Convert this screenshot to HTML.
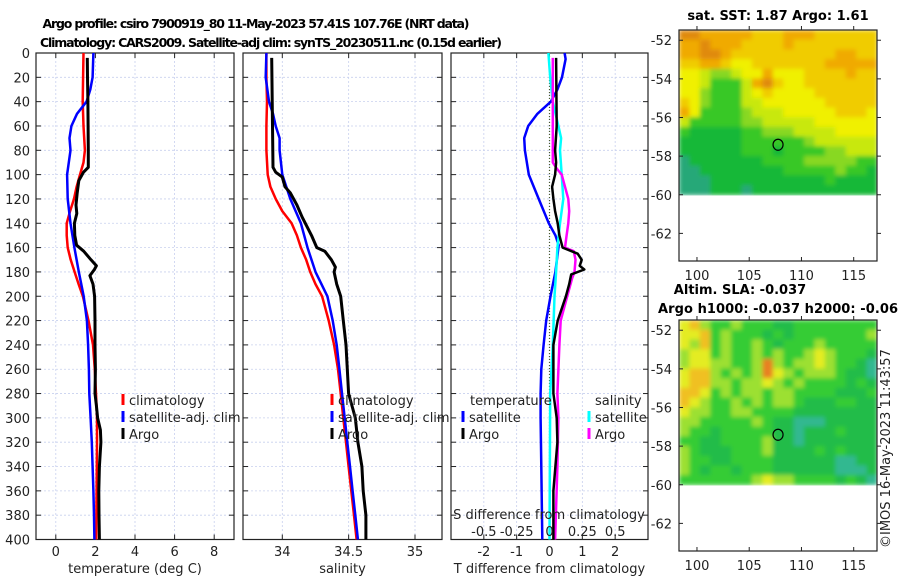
<!DOCTYPE html>
<html><head><meta charset="utf-8"><style>
html,body{margin:0;padding:0;background:#fff;}
svg{display:block;font-family:"DejaVu Sans","Liberation Sans",sans-serif;}
</style></head><body>
<svg id="s" width="900" height="580" viewBox="0 0 900 580" xmlns="http://www.w3.org/2000/svg">
<defs>
<filter id="blur" x="0" y="0" width="1" height="1"><feGaussianBlur stdDeviation="2.2" edgeMode="duplicate"/></filter>
<clipPath id="clipTop"><rect x="679" y="30" width="198" height="166.4"/></clipPath>
<clipPath id="clipBot"><rect x="679" y="320" width="198" height="166.4"/></clipPath>
</defs>
<text x="256" y="28" font-size="12.5" font-weight="bold" text-anchor="middle" textLength="427">Argo profile: csiro 7900919_80 11-May-2023 57.41S 107.76E (NRT data)</text>
<text x="271" y="47" font-size="12.5" font-weight="bold" text-anchor="middle" textLength="462">Climatology: CARS2009. Satellite-adj clim: synTS_20230511.nc (0.15d earlier)</text>
<text x="778" y="20" font-size="13" font-weight="bold" text-anchor="middle">sat. SST: 1.87 Argo: 1.61</text>
<text x="740" y="294" font-size="13" font-weight="bold" text-anchor="middle">Altim. SLA: -0.037</text>
<text x="778" y="313" font-size="13" font-weight="bold" text-anchor="middle" textLength="240">Argo h1000: -0.037 h2000: -0.06</text>
<text transform="translate(890,548) rotate(-90)" font-size="13" fill="#222">©IMOS 16-May-2023 11:43:57</text>
</svg>
<script>
// ---------- data ----------
const yTicks=[0,20,40,60,80,100,120,140,160,180,200,220,240,260,280,300,320,340,360,380,400];
const tTicks=[0,2,4,6,8];
const sTicks=[34,34.5,35];
const sTickLabels=["34","34.5","35"];
const dTicks=[-2,-1,0,1,2];
const sdTicks=[-0.5,-0.25,0,0.25,0.5];
const sdTickLabels=["-0.5","-0.25","0","0.25","0.5"];

const climTDepth=[0,20,40,60,80,90,100,110,120,130,140,150,160,170,180,190,200,220,240,260,280,300,320,340,360,380,400];
const climT=[1.4,1.38,1.36,1.4,1.47,1.4,1.22,1.05,0.92,0.72,0.55,0.55,0.6,0.75,0.95,1.15,1.37,1.65,1.88,1.97,2.03,2.08,2.08,2.07,2.06,2.05,2.04];
const satTDepth=[0,20,30,40,50,60,70,80,100,120,140,160,180,200,220,240,260,280,300,320,340,360,380,400];
const satT=[1.9,1.86,1.74,1.55,1.07,0.79,0.69,0.74,0.57,0.6,0.74,0.94,1.16,1.41,1.57,1.63,1.67,1.69,1.76,1.82,1.86,1.9,1.93,1.95];
const argoTDepth=[4,20,40,60,80,94,98,105,115,125,132,140,150,158,163,170,175,178,183,190,200,220,240,260,280,290,300,310,320,340,360,380,400];
const argoT=[1.59,1.6,1.62,1.63,1.64,1.64,1.4,1.16,1.08,1.02,1.06,0.94,0.96,1.05,1.41,1.78,2.05,1.95,1.72,1.88,1.96,1.98,1.98,2.0,1.98,2.05,2.11,2.25,2.28,2.2,2.17,2.18,2.2];

const climSDepth=[0,20,40,60,80,100,110,120,130,140,150,160,170,180,190,200,220,240,260,280,300,320,340,360,380,400];
const climS=[33.88,33.88,33.885,33.88,33.88,33.89,33.91,33.95,34.0,34.07,34.11,34.14,34.18,34.21,34.25,34.3,34.35,34.39,34.42,34.44,34.46,34.48,34.5,34.52,34.54,34.56];
const satSDepth=[0,20,40,50,60,70,80,100,120,140,160,180,200,220,240,260,280,300,320,340,360,380,400];
const satS=[33.88,33.875,33.9,33.93,33.95,33.98,33.98,34.0,34.06,34.14,34.19,34.25,34.34,34.38,34.41,34.43,34.45,34.47,34.49,34.51,34.53,34.55,34.57];
const argoSDepth=[4,94,98,102,110,115,125,135,150,160,163,170,176,180,190,200,220,240,260,280,300,320,340,360,380,400];
const argoS=[33.92,33.93,33.95,34.0,34.02,34.06,34.11,34.15,34.22,34.26,34.32,34.37,34.4,34.39,34.41,34.44,34.46,34.48,34.49,34.5,34.55,34.57,34.6,34.61,34.63,34.63];

const dSatTDepth=[0,5,20,30,40,50,60,70,80,100,120,140,150,158,180,200,220,240,260,280,300,340,400];
const dSatT=[0.46,0.49,0.38,0.24,0.04,-0.37,-0.65,-0.77,-0.75,-0.63,-0.33,-0.02,0.18,0.28,0.18,0.03,-0.1,-0.18,-0.25,-0.27,-0.27,-0.25,-0.22];
const dArgoTDepth=[4,60,80,90,100,110,120,130,140,150,160,165,170,175,178,182,190,200,220,240,280,300,320,360,400];
const dArgoT=[0.2,0.22,0.17,0.2,0.17,0.08,0.12,0.17,0.25,0.3,0.4,0.86,0.98,0.92,1.06,0.66,0.6,0.5,0.25,0.12,0.12,0.22,0.24,0.12,0.12];
const dSatSDepth=[0,20,40,60,70,80,100,120,140,160,180,200,240,280,400];
const dSatS=[-0.008,0.005,0.025,0.068,0.088,0.08,0.093,0.105,0.08,0.06,0.05,0.038,0.025,0.005,0.0];
const dArgoSDepth=[4,80,90,95,100,110,120,130,140,150,160,163,170,180,185,200,220,240,280,300,340,400];
const dArgoS=[0.025,0.025,0.025,0.055,0.093,0.118,0.143,0.15,0.143,0.13,0.118,0.185,0.198,0.19,0.173,0.135,0.085,0.075,0.06,0.068,0.06,0.043];

const sstGrid=["8877777666777666666","7787776666766666666","7788766666666667766","6677655666666677777","5543345575556666766","5542224786556666666","5532224565555666666","6532224455555566666","7522223444555556665","4222223344444555555","2111112233344445555","1111112222223444444","1111112221222233444","0111111122223333322","0011111111222223221","0001111111111121111","0001110111111111111"];
const slaGrid=["4532232221122222222","4452322212122222223","4352322321222322222","3442322323223432221","3443322363233432210","4553232364323332110","4553323343232222121","5542323323322221112","5432232323321112211","4332233222211111111","3322222321100011111","3221222221101112111","2211222231101111111","3211122231111212111","3221122221111110011","3212212221111110001","2222222343322221210"];
const mapLonTicks=[100,105,110,115];
const mapLatTicks=[-52,-54,-56,-58,-60,-62];
const argoLon=107.76, argoLat=-57.41;

// ---------- drawing ----------
const S=document.getElementById('s');const NS='http://www.w3.org/2000/svg';
function mk(tag,attrs,parent){const e=document.createElementNS(NS,tag);for(const k in attrs)e.setAttribute(k,attrs[k]);(parent||S).appendChild(e);return e;}
const Y0=53,Y1=539.5;
const yS=d=>Y0+(d/400)*(Y1-Y0);
function lin(d0,d1,p0,p1){return v=>p0+(v-d0)/(d1-d0)*(p1-p0);}

function panel(name,x0,x1,xs,xt,xtl,showYLabels,xlabel){
  const g=mk('g',{});
  
  
  yTicks.forEach(d=>{const l=mk('line',{x1:x0,x2:x1,y1:yS(d),y2:yS(d),stroke:'#c8d0ee','stroke-width':0.8,'stroke-dasharray':'2,2'},g);
    
    mk('line',{x1:x0,x2:x0+5,y1:yS(d),y2:yS(d),stroke:'#222'},g);mk('line',{x1:x1-5,x2:x1,y1:yS(d),y2:yS(d),stroke:'#222'},g);
    if(showYLabels){const t=mk('text',{x:30,y:yS(d)+5,'font-size':13,'text-anchor':'end',fill:'#222'},g);t.textContent=d;
      }
  });
  xt.forEach((v,i)=>{const x=xs(v);
    const l=mk('line',{x1:x,x2:x,y1:Y0,y2:Y1,stroke:'#c8d0ee','stroke-width':0.8,'stroke-dasharray':'2,2'},g);
    
    mk('line',{x1:x,x2:x,y1:Y0,y2:Y0+5,stroke:'#222'},g);mk('line',{x1:x,x2:x,y1:Y1-5,y2:Y1,stroke:'#222'},g);
    const t=mk('text',{x:x,y:556,'font-size':13,'text-anchor':'middle',fill:'#222'},g);t.textContent=xtl[i];
    
  });
  const r=mk('rect',{x:x0,y:Y0,width:x1-x0,height:Y1-Y0,fill:'none',stroke:'#222','stroke-width':1.2},g);
  
  const t=mk('text',{x:(x0+x1)/2,y:573,'font-size':13,'text-anchor':'middle',fill:'#222'},g);t.textContent=xlabel;
  
  return g;
}
function line(g,name,depths,vals,xs,color,w){
  const pts=depths.map((d,i)=>xs(vals[i]).toFixed(1)+','+yS(d).toFixed(1)).join(' ');
  const p=mk('polyline',{points:pts,fill:'none',stroke:color,'stroke-width':w,'stroke-linejoin':'round'},g);
  
}
function legendItem(g,name,x,y,color,label,w){
  const l=mk('line',{x1:x,x2:x,y1:y-11,y2:y,stroke:color,'stroke-width':w||3},g);
  
  if(label){const t=mk('text',{x:x+6,y:y,'font-size':13,fill:'#222'},g);t.textContent=label;
    }
}

// Panel 1 temperature
const xT=lin(-1,9,36,234);
const g1=panel('temperature-panel',36,234,xT,tTicks,tTicks.map(String),true,'temperature (deg C)');
line(g1,'temp-climatology-line',climTDepth,climT,xT,'#ff0000',2.5);
line(g1,'temp-satellite-line',satTDepth,satT,xT,'#0000ff',2.5);
line(g1,'temp-argo-line',argoTDepth,argoT,xT,'#000',3);
legendItem(g1,'legend-climatology',123,405,'#ff0000','climatology');
legendItem(g1,'legend-satellite-adj',123,422,'#0000ff','satellite-adj. clim');
legendItem(g1,'legend-argo',123,439,'#000','Argo');

// Panel 2 salinity
const xS=lin(34,35,282.3,415);
const g2=panel('salinity-panel',243,442,xS,sTicks,sTickLabels,false,'salinity');
line(g2,'sal-climatology-line',climSDepth,climS,xS,'#ff0000',2.5);
line(g2,'sal-satellite-line',satSDepth,satS,xS,'#0000ff',2.5);
line(g2,'sal-argo-line',argoSDepth,argoS,xS,'#000',3);
legendItem(g2,'legend-climatology-sal',332,405,'#ff0000','climatology');
legendItem(g2,'legend-satellite-adj-sal',332,422,'#0000ff','satellite-adj. clim');
legendItem(g2,'legend-argo-sal',332,439,'#000','Argo');

// Panel 3 differences
const xD=lin(-3,3,451,648);
const xSD=v=>xD(v*4);
const g3=panel('difference-panel',451,648,xD,dTicks,dTicks.map(String),false,'T difference from climatology');
const zl=mk('line',{x1:xD(0),x2:xD(0),y1:Y0,y2:Y1,stroke:'#4a5a2a','stroke-width':1.2,'stroke-dasharray':'1,2'},g3);

line(g3,'tdiff-satellite-line',dSatTDepth,dSatT,xD,'#0000ff',2.5);
line(g3,'sdiff-satellite-line',dSatSDepth,dSatS,xSD,'#00ffff',2.5);
line(g3,'sdiff-argo-line',dArgoSDepth,dArgoS,xSD,'#ff00ff',2.5);
line(g3,'tdiff-argo-line',dArgoTDepth,dArgoT,xD,'#000',2.5);
let tt=mk('text',{x:470,y:405,'font-size':13,fill:'#222'},g3);tt.textContent='temperature';

tt=mk('text',{x:595,y:405,'font-size':13,fill:'#222'},g3);tt.textContent='salinity';

legendItem(g3,'legend-tdiff-satellite',463,422,'#0000ff','satellite');
legendItem(g3,'legend-tdiff-argo',463,439,'#000','Argo');
legendItem(g3,'legend-sdiff-satellite',589,422,'#00ffff','satellite');
legendItem(g3,'legend-sdiff-argo',589,439,'#ff00ff','Argo');
tt=mk('text',{x:549,y:519,'font-size':13,'text-anchor':'middle',fill:'#222'},g3);tt.textContent='S difference from climatology';

sdTicks.forEach((v,i)=>{const t=mk('text',{x:xSD(v),y:536,'font-size':13,'text-anchor':'middle',fill:'#222'},g3);t.textContent=sdTickLabels[i];
  });

// Maps
const sstColors=['#28a878','#18b838','#38c828','#88d820','#c8e810','#f0f000','#f0cc00','#f0aa00','#e08a10','#c05818'];
const slaColors=['#30b890','#22bc48','#36cc34','#9ce030','#e4ec20','#f0c020','#e88020'];
function map(name,top,grid,colors,clipId){
  const g=mk('g',{});
  
  
  const x0=679,x1=877;const lx=lin(98.28,117.23,x0,x1);const ly=lin(-51.47,-63.43,top,top+231);
  const rows=grid.length,cols=grid[0].length;
  const cw=(lx(117.23)-lx(98.28))/cols, ch=(ly(-60)-ly(-51.47))/rows;
  const cg=mk('g',{'clip-path':'url(#'+clipId+')'},g);
  const bg=mk('g',{filter:'url(#blur)'},cg);
  grid.forEach((row,r)=>{for(let c=0;c<cols;c++){
    const cell=mk('rect',{x:(x0+c*cw).toFixed(2),y:(top+r*ch).toFixed(2),width:(cw+0.5).toFixed(2),height:(ch+0.5).toFixed(2),fill:colors[+row[c]]},bg);
    }});
  mapLatTicks.forEach(v=>{const y=ly(v);mk('line',{x1:x0,x2:x0+4,y1:y,y2:y,stroke:'#222'},g);mk('line',{x1:x1,x2:x1+4,y1:y,y2:y,stroke:'#222'},g);
    const t=mk('text',{x:672,y:y+5,'font-size':13,'text-anchor':'end',fill:'#222'},g);t.textContent=v;
    });
  mapLonTicks.forEach(v=>{const x=lx(v);mk('line',{x1:x,x2:x,y1:top,y2:top-4,stroke:'#222'},g);mk('line',{x1:x,x2:x,y1:top+231,y2:top+227,stroke:'#222'},g);
    const t=mk('text',{x:x,y:top+250,'font-size':13,'text-anchor':'middle',fill:'#222'},g);t.textContent=v;
    });
  const f=mk('rect',{x:x0,y:top,width:x1-x0,height:231,fill:'none',stroke:'#222','stroke-width':1.2},g);
  
  const c=mk('ellipse',{cx:lx(argoLon),cy:ly(argoLat),rx:5,ry:5.5,fill:'none',stroke:'#000','stroke-width':1.2},g);
  
}
map('sst-map',30,sstGrid,sstColors,'clipTop');
map('sla-map',320,slaGrid,slaColors,'clipBot');
</script>
</body></html>
